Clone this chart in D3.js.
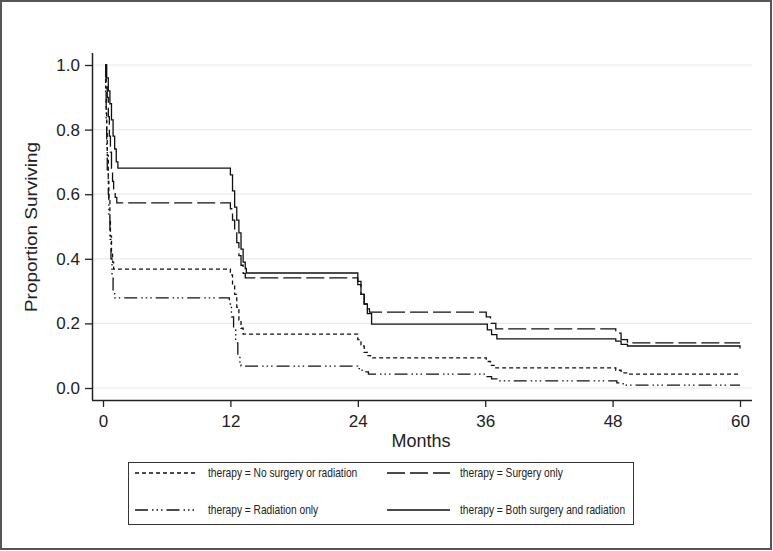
<!DOCTYPE html>
<html><head><meta charset="utf-8">
<script src="https://cdn.jsdelivr.net/npm/d3@7"></script>
<style>body{margin:0;background:#fff}svg{display:block}</style>
</head><body>
<script>
// Kaplan-Meier step points [month, proportion surviving]
const noTreatment = [[0.2,1.0],[0.25,0.93],[0.3,0.86],[0.35,0.79],[0.4,0.72],[0.5,0.64],[0.55,0.58],[0.65,0.52],[0.7,0.47],[0.8,0.42],[0.9,0.39],[1.0,0.368],[12.0,0.35],[12.2,0.32],[12.4,0.29],[12.6,0.25],[12.8,0.21],[13.0,0.185],[13.2,0.167],[24.0,0.15],[24.3,0.13],[24.6,0.11],[24.9,0.10],[25.2,0.093],[36.1,0.082],[36.5,0.07],[37.0,0.062],[48.3,0.055],[48.8,0.047],[49.4,0.043],[60,0.043]];
const surgeryOnly = [[0.2,1.0],[0.3,0.95],[0.4,0.90],[0.5,0.84],[0.6,0.78],[0.7,0.73],[0.8,0.68],[0.9,0.64],[1.0,0.61],[1.15,0.59],[1.3,0.573],[12.0,0.555],[12.2,0.52],[12.4,0.49],[12.6,0.45],[12.8,0.41],[13.0,0.38],[13.2,0.355],[13.4,0.341],[24.0,0.32],[24.3,0.29],[24.6,0.26],[24.9,0.245],[25.1,0.235],[36.1,0.22],[36.5,0.20],[37.0,0.183],[48.3,0.17],[48.8,0.15],[49.4,0.14],[60,0.14]];
const radiationOnly = [[0.2,1.0],[0.25,0.91],[0.3,0.83],[0.35,0.75],[0.4,0.67],[0.5,0.60],[0.55,0.53],[0.65,0.46],[0.75,0.40],[0.85,0.35],[0.95,0.30],[1.1,0.279],[11.9,0.26],[12.1,0.22],[12.3,0.18],[12.5,0.14],[12.7,0.10],[12.9,0.08],[13.0,0.068],[24.0,0.06],[24.4,0.05],[25.0,0.043],[36.1,0.035],[36.6,0.028],[37.1,0.022],[48.4,0.016],[49.0,0.009],[60,0.009]];
const bothTherapies = [[0.2,1.0],[0.35,0.96],[0.5,0.92],[0.65,0.88],[0.8,0.83],[0.95,0.78],[1.1,0.74],[1.25,0.70],[1.4,0.681],[12.0,0.66],[12.2,0.61],[12.4,0.56],[12.6,0.52],[12.8,0.48],[13.0,0.43],[13.2,0.39],[13.4,0.37],[13.5,0.356],[24.0,0.33],[24.3,0.29],[24.6,0.26],[24.9,0.23],[25.3,0.198],[36.2,0.18],[36.6,0.165],[37.1,0.152],[48.3,0.145],[48.8,0.135],[49.4,0.13],[59.9,0.13],[60,0.122]];

const seriesNames = ["therapy = No surgery or radiation","therapy = Surgery only","therapy = Radiation only","therapy = Both surgery and radiation"];
const xTicks = [0,12,24,36,48,60];
const yTicks = [0,0.2,0.4,0.6,0.8,1.0];

const W = 773, H = 551;
const FONT = "Liberation Sans, Arial, sans-serif";
const svg = d3.select("body").append("svg").attr("width",W).attr("height",H);
svg.append("rect").attr("x",1).attr("y",1).attr("width",W-3).attr("height",H-3)
  .attr("fill","#fff").attr("stroke","#555").attr("stroke-width",2);

const x = d3.scaleLinear().domain([0,60]).range([103,740]);
const y = d3.scaleLinear().domain([0,1]).range([388,65]);

// gridlines
svg.append("g").selectAll("line").data(yTicks).join("line")
  .attr("x1",93).attr("x2",752).attr("y1",d=>y(d)).attr("y2",d=>y(d))
  .attr("stroke","#e6ecec").attr("stroke-width",1.2);

// axes
const gx = svg.append("g").attr("transform","translate(0,400)")
  .call(d3.axisBottom(x).tickValues(xTicks).tickSize(7).tickPadding(8).tickFormat(d3.format("d")));
gx.select(".domain").attr("d","M92,0.5H752").attr("stroke","#222").attr("stroke-width",1.5);
const gy = svg.append("g").attr("transform","translate(92,0)")
  .call(d3.axisLeft(y).tickValues(yTicks).tickSize(7).tickPadding(5).tickFormat(d3.format(".1f")));
gy.select(".domain").attr("d","M0.5,53V400").attr("stroke","#222").attr("stroke-width",1.5);
svg.selectAll(".tick line").attr("stroke","#222").attr("stroke-width",1.3);
svg.selectAll(".tick text").attr("font-family",FONT).attr("font-size",17).attr("fill","#222");

svg.append("text").attr("x",421).attr("y",447).attr("text-anchor","middle")
  .attr("font-family",FONT).attr("font-size",18).attr("fill","#222").text("Months");
svg.append("text").attr("transform","translate(37,227) rotate(-90)").attr("text-anchor","middle")
  .attr("font-family",FONT).attr("font-size",16).attr("fill","#222")
  .attr("textLength",170).attr("lengthAdjust","spacingAndGlyphs").text("Proportion Surviving");

const dashes = ["4,3","18,5","13,4,1.5,3,1.5,3,1.5,4",null];
const data = [noTreatment, surgeryOnly, radiationOnly, bothTherapies];
const line = d3.line().x(d=>x(d[0])).y(d=>y(d[1])).curve(d3.curveStepAfter);
const lg = svg.append("g");
data.forEach((s,i)=>{
  lg.append("path").attr("d",line(s)).attr("fill","none").attr("stroke","#111")
    .attr("stroke-width",1.3).attr("stroke-dasharray",dashes[i]);
});

// legend
const leg = svg.append("g");
leg.append("rect").attr("x",128.5).attr("y",462.5).attr("width",505).attr("height",62)
  .attr("fill","#fff").attr("stroke","#333").attr("stroke-width",1);
const pos = [[135,473],[387,473],[135,510],[387,510]];
seriesNames.forEach((n,i)=>{
  const [lx,ly] = pos[i];
  leg.append("line").attr("x1",lx).attr("x2",lx+63).attr("y1",ly).attr("y2",ly)
    .attr("stroke","#111").attr("stroke-width",1.3).attr("stroke-dasharray",dashes[i]);
  leg.append("text").attr("transform",`translate(${lx+73},${ly+4}) scale(0.85,1)`)
    .attr("font-family",FONT).attr("font-size",12).attr("fill","#222").text(n);
});
</script>
</body></html>
